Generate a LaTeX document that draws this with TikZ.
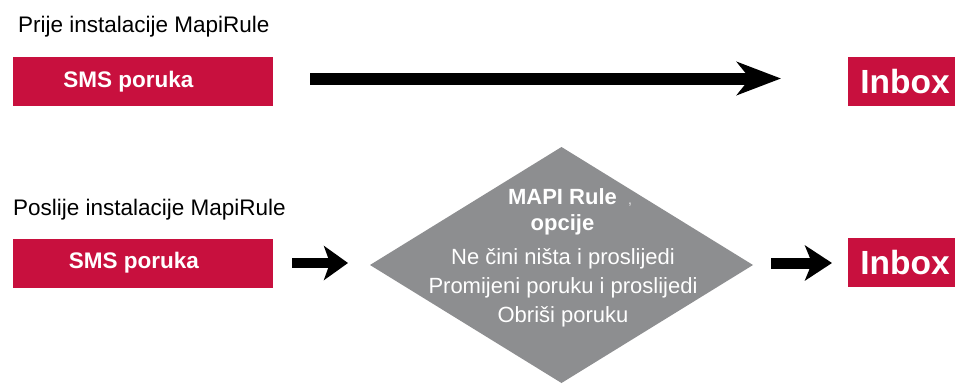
\documentclass[tikz,border=0pt]{standalone}
\usepackage{fontspec}
\setmainfont{Liberation Sans}
\usetikzlibrary{arrows.meta,shapes.geometric}
\definecolor{msgred}{RGB}{200,16,62}
\definecolor{rulegray}{RGB}{141,142,144}
\tikzset{
  caption/.style={anchor=base west, inner sep=0pt, font=\fontsize{22.5}{27}\selectfont},
  smsbox/.style={fill=msgred, minimum width=260pt, minimum height=49pt, inner sep=0pt, outer sep=0pt,
    text=white, font=\fontsize{22.5}{27}\selectfont\bfseries},
  inboxbox/.style={fill=msgred, minimum width=114pt, minimum height=49pt, inner sep=0pt, outer sep=0pt,
    text=white, font=\fontsize{33.5}{38}\selectfont\bfseries},
  rulebox/.style={diamond, fill=rulegray, minimum width=383pt, minimum height=236pt, inner sep=0pt, outer sep=0pt},
  ruletext/.style={anchor=base, inner sep=0pt, text=white, font=\fontsize{22}{26}\selectfont},
  bigflow/.style={line width=12pt, -{Stealth[length=44pt, width=33pt, inset=13pt]}},
  flow/.style={line width=10pt, -{Stealth[length=24pt, width=34pt, inset=6pt]}},
}
\begin{document}
\begin{tikzpicture}[x=1pt, y=-1pt]
\useasboundingbox (0,0) rectangle (955,388);

% before installation
\node[caption] (cap1) at (18,32) {Prije instalacije MapiRule};
\node[smsbox] (sms1) at (143,81.5) {\hspace*{-29pt}SMS poruka};
\node[inboxbox] (inbox1) at (905,81.5) {Inbox};
\draw[bigflow, shorten <=37pt, shorten >=67pt] ([yshift=3pt]sms1.east) -- ([yshift=3pt]inbox1.west);

% after installation
\node[caption] (cap2) at (13,215) {Poslije instalacije MapiRule};
\node[smsbox] (sms2) at (143,263) {\hspace*{-18pt}SMS poruka};
\node[rulebox] (rule) at (561.5,265) {};
\node[inboxbox] (inbox2) at (905,262.5) {Inbox};

\node[ruletext, font=\fontsize{22}{26}\selectfont\bfseries] (r1) at (562.5,204) {MAPI Rule};
\node[ruletext, text=white!80!rulegray, font=\fontsize{14}{16}\selectfont] (r1c) at (630,204) {,};
\node[ruletext, font=\fontsize{22}{26}\selectfont\bfseries] (r2) at (562.5,230) {opcije};
\node[ruletext] (r3) at (563,264) {Ne čini ništa i proslijedi};
\node[ruletext] (r4) at (563,293) {Promijeni poruku i proslijedi};
\node[ruletext] (r5) at (563,322) {Obriši poruku};

\draw[flow, shorten <=19pt, shorten >=22pt] (sms2.east) -- (sms2.east -| rule.west);
\draw[flow, line width=11pt, -{Stealth[length=27pt, width=35pt, inset=7pt]}, shorten <=18pt, shorten >=16pt]
  ([yshift=2pt]rule.east) -- ([yshift=2pt]rule.east -| inbox2.west);
\end{tikzpicture}
\end{document}
